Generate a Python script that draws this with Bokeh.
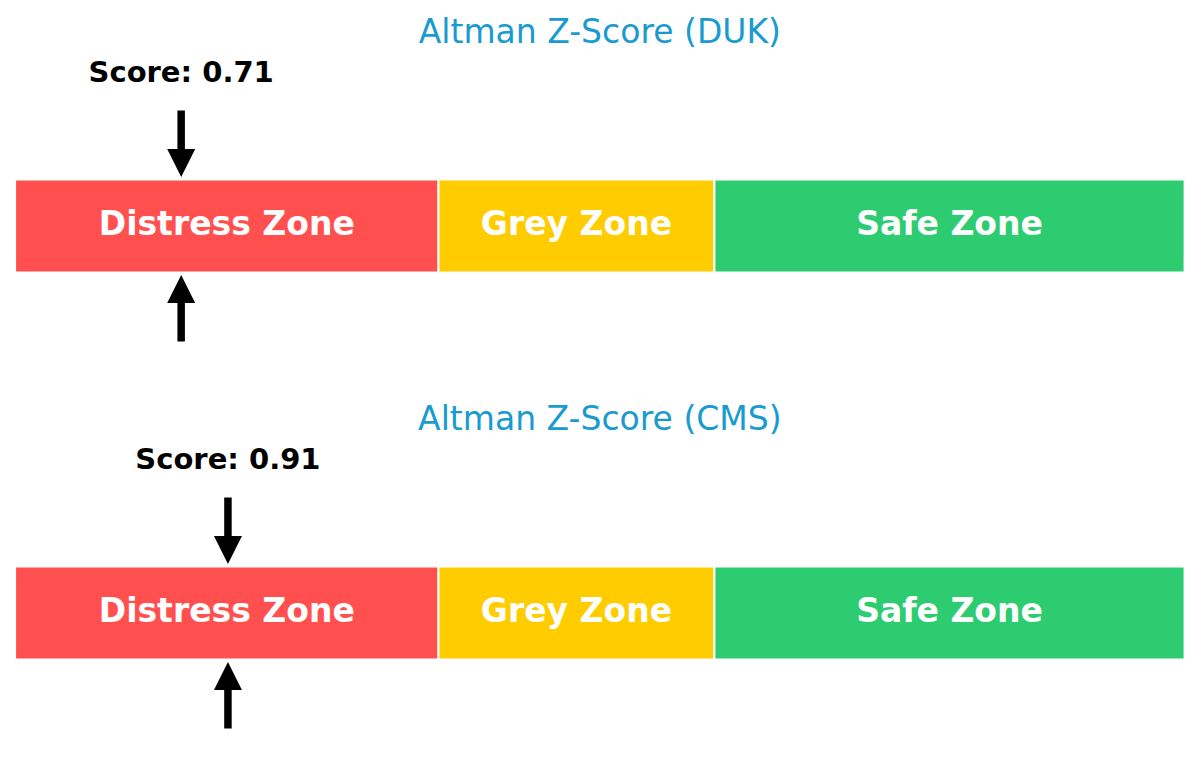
from bokeh.core.properties import value
from bokeh.embed import file_html
from bokeh.layouts import column
from bokeh.models import Arrow, NormalHead, Range1d
from bokeh.plotting import figure
from bokeh.resources import INLINE

companies = ["DUK", "CMS"]
scores = [0.71, 0.91]

zone_names = ["Distress Zone", "Grey Zone", "Safe Zone"]
zone_left = [0.0, 1.81, 2.99]
zone_right = [1.81, 2.99, 5.0]
zone_colors = ["#ff4f4f", "#ffcc00", "#2ecc71"]

FONT = value("DejaVu Sans")
W, H = 1200, 387


def zscore_panel(company, score):
    # y runs downward in pixels from the panel top
    p = figure(width=W, height=H, output_backend="svg", toolbar_location=None,
               x_range=Range1d(-0.0624, 5.068), y_range=Range1d(H, 0),
               min_border=0, outline_line_color=None,
               x_axis_location=None, y_axis_location=None)
    p.grid.visible = False
    p.background_fill_color = "white"
    p.border_fill_color = "white"

    p.quad(left=zone_left, right=zone_right, top=179, bottom=272,
           fill_color=zone_colors, line_color="white", line_width=2)
    centers = [(a + b) / 2 for a, b in zip(zone_left, zone_right)]
    p.text(x=centers, y=223, text=zone_names, text_font=FONT,
           text_font_size="33px", text_font_style="bold", text_color="white",
           text_align="center", text_baseline="alphabetic")

    p.text(x=[(zone_left[0] + zone_right[-1]) / 2], y=[31],
           text=[f"Altman Z-Score ({company})"], text_font=FONT,
           text_font_size="33px", text_color="#1a9bd0",
           text_align="center", text_baseline="alphabetic")
    p.text(x=[score], y=[71], text=[f"Score: {score:.2f}"], text_font=FONT,
           text_font_size="29px", text_font_style="bold", text_color="black",
           text_align="center", text_baseline="alphabetic")

    for y0, y1 in [(110, 176.5), (341, 274.5)]:
        p.add_layout(Arrow(end=NormalHead(size=28, fill_color="black", line_alpha=0),
                           x_start=score, y_start=y0, x_end=score, y_end=y1,
                           line_width=7.5, line_color="black"))
    return p


plots = [zscore_panel(c, s) for c, s in zip(companies, scores)]
layout = column(*plots, spacing=0)

open("out.html", "w").write(file_html(layout, INLINE))
